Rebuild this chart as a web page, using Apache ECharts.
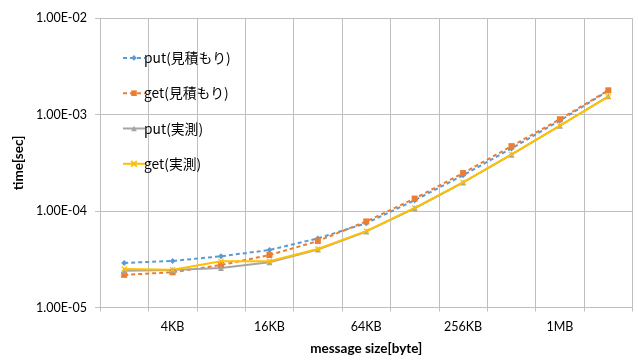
<!DOCTYPE html>
<html>
<head>
<meta charset="utf-8">
<script src="https://cdn.jsdelivr.net/npm/echarts@6/dist/echarts.min.js"></script>
<style>
html,body{margin:0;padding:0;background:#fff;}
#chart{width:638px;height:360px;}
</style>
</head>
<body>
<div id="chart"></div>
<script>
const categories = ['2KB','4KB','8KB','16KB','32KB','64KB','128KB','256KB','512KB','1MB','2MB'];
const putEstimate = [2.90e-5, 3.04e-5, 3.40e-5, 3.95e-5, 5.21e-5, 7.50e-5, 1.296e-4, 2.35e-4, 4.47e-4, 8.69e-4, 1.77e-3];
const getEstimate = [2.18e-5, 2.32e-5, 2.76e-5, 3.50e-5, 4.89e-5, 7.81e-5, 1.349e-4, 2.48e-4, 4.72e-4, 8.97e-4, 1.79e-3];
const putMeasured = [2.41e-5, 2.45e-5, 2.57e-5, 2.94e-5, 3.99e-5, 6.15e-5, 1.07e-4, 1.98e-4, 3.85e-4, 7.68e-4, 1.55e-3];
const getMeasured = [2.51e-5, 2.47e-5, 3.02e-5, 3.02e-5, 4.04e-5, 6.20e-5, 1.079e-4, 1.99e-4, 3.87e-4, 7.71e-4, 1.54e-3];
const seriesNames = ['put(見積もり)','get(見積もり)','put(実測)','get(実測)'];

const font = 'Lato, "Noto Sans CJK JP", sans-serif';
const chart = echarts.init(document.getElementById('chart'), null, {renderer:'canvas'});

function fmt(v){
  const e = Math.round(Math.log10(v));
  const s = e < 0 ? '-' : '+';
  const a = Math.abs(e);
  return '1.00E' + s + (a < 10 ? '0' + a : a);
}

function mk(name, data, color, symbol, size, dashed, stroke){
  return {
    name: name, type: 'line', data: data,
    symbol: symbol, symbolSize: size, showSymbol: true,
    lineStyle: {color: color, width: 2, type: dashed ? [4, 3] : 'solid'},
    itemStyle: stroke ? {color: color, borderColor: color, borderWidth: 1.2} : {color: color},
    emphasis: {disabled: true},
    animation: false
  };
}

chart.setOption({
  animation: false,
  grid: {left: 100, right: 5.5, top: 18.3, bottom: 51.3, containLabel: false},
  legend: {
    orient: 'vertical', left: 117, top: 46,
    itemWidth: 22, itemHeight: 7, itemGap: 21.5,
    textStyle: {fontFamily: '"Noto Sans CJK JP", sans-serif', fontSize: 13.8, color: '#000', padding: [0,0,0,-6]},
    data: seriesNames
  },
  xAxis: {
    type: 'category', data: categories, boundaryGap: true,
    name: 'message size[byte]', nameLocation: 'middle', nameGap: 34,
    nameTextStyle: {fontFamily: font, fontWeight: 'bold', fontSize: 13.5, color: '#000'},
    axisLine: {lineStyle: {color: '#BFBFBF', width: 1}},
    axisTick: {show: true, interval: 0, length: 4, lineStyle: {color: '#BFBFBF'}},
    axisLabel: {interval: function(i){ return i % 2 === 1; }, fontFamily: font, fontSize: 12.5, color: '#000', margin: 13},
    splitLine: {show: true, interval: 0, lineStyle: {color: '#BFBFBF', width: 1}}
  },
  yAxis: {
    type: 'log', logBase: 10, min: 1e-5, max: 1e-2,
    name: 'time[sec]', nameLocation: 'middle', nameGap: 67, nameRotate: 90,
    nameTextStyle: {fontFamily: font, fontWeight: 'bold', fontSize: 13.5, color: '#000'},
    axisLine: {show: true, lineStyle: {color: '#BFBFBF', width: 1}},
    axisTick: {show: true, length: 5, lineStyle: {color: '#BFBFBF'}},
    axisLabel: {formatter: fmt, fontFamily: font, fontSize: 12.5, color: '#000', margin: 13},
    splitLine: {show: true, lineStyle: {color: '#BFBFBF', width: 1}},
    minorTick: {show: false}
  },
  series: [
    mk(seriesNames[0], putEstimate, '#5B9BD5', 'diamond', 6, true),
    mk(seriesNames[1], getEstimate, '#ED7D31', 'rect', 6, true),
    mk(seriesNames[2], putMeasured, '#A5A5A5', 'triangle', 6, false),
    mk(seriesNames[3], getMeasured, '#FFC000', 'path://M0,0L10,10M10,0L0,10', 5, false, true)
  ]
});
</script>
</body>
</html>
